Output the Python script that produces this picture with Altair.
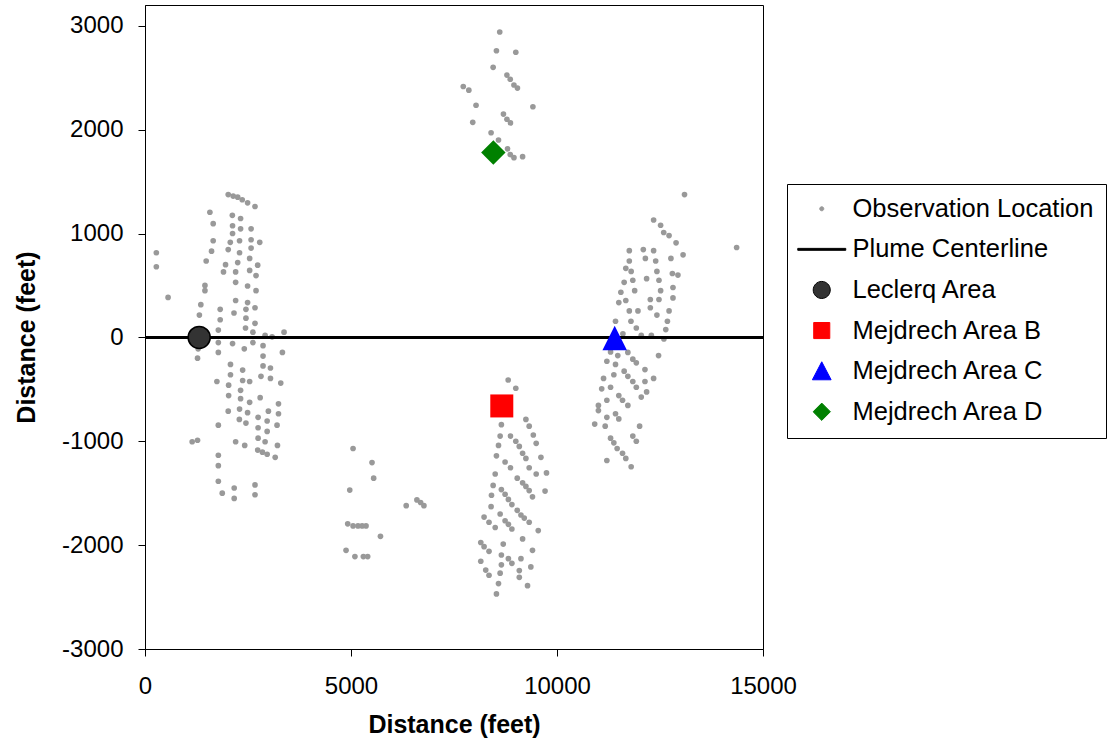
import altair as alt
import pandas as pd

# ---------------- data (feet) ----------------
west_x = [2020, 2140, 2250, 2360, 2490, 2670, 1575, 2120, 2320, 1655,
          2125, 2320, 2575, 2125, 1655, 2070, 2295, 2575, 2785, 275,
          1615, 2020, 2295, 2575, 1485, 1955, 2250, 2540, 2735, 275,
          1905, 2200, 2540, 2695, 2200, 1455, 2490, 1455, 2695, 560,
          2200, 2490, 1355, 1825, 2450, 2670, 2160, 1320, 1825, 2450,
          2670, 1780, 2440, 2620, 2915, 3085, 3375, 1780, 2125, 2620,
          2410, 2865, 1290, 1780, 3335, 2865, 1275, 2075, 2865, 3045,
          2370, 2075, 2815, 3045, 1745, 2370, 2540, 3295, 2030, 2320,
          2030, 2795, 2320, 2540, 3240, 2295, 2020, 2490, 2995, 3240,
          2290, 2450, 2745, 2965, 1780, 3205, 2745, 2965, 2745, 2915,
          2200, 2420, 3215, 1145, 1275, 2735, 2850, 2965, 3160, 1780,
          1780, 1780, 2670, 1875, 2165, 2670, 2165]
west_y = [1375, 1360, 1350, 1325, 1295, 1260, 1205, 1175, 1145, 1095,
          1075, 1045, 1045, 1000, 930, 915, 930, 940, 915, 815,
          830, 845, 815, 860, 735, 700, 720, 760, 695, 680,
          630, 630, 645, 595, 530, 500, 495, 450, 450, 385,
          355, 335, 315, 270, 270, 285, 235, 215, 170, 185,
          135, 70, 90, 50, 20, 5, 50, -50, -60, -50,
          -110, -80, -110, -145, -145, -180, -200, -260, -275, -295,
          -315, -360, -375, -395, -425, -415, -425, -440, -460, -510,
          -560, -580, -590, -625, -640, -690, -710, -725, -710, -735,
          -790, -825, -770, -805, -845, -845, -870, -905, -970, -1005,
          -1005, -1040, -1040, -1005, -990, -1085, -1105, -1125, -1155, -1135,
          -1235, -1385, -1420, -1500, -1450, -1515, -1550]

south_x = [5050, 5510, 5550, 4970, 6340, 6600, 6690, 6770, 4920, 5050,
           5170, 5270, 5365, 5715, 4880, 5095, 5300, 5405]
south_y = [-1070, -1205, -1355, -1470, -1620, -1565, -1590, -1620, -1795, -1815,
           -1815, -1815, -1815, -1915, -2050, -2110, -2110, -2110]

north_x = [8610, 8530, 9000, 8450, 8785, 8865, 8955, 9040, 7725, 7860,
           8035, 9415, 8700, 8785, 8870, 7955, 8400, 8580, 8800, 8865,
           8955, 9165]
north_y = [2940, 2760, 2745, 2600, 2525, 2485, 2430, 2400, 2415, 2380,
           2235, 2220, 2150, 2100, 2065, 2070, 1970, 1900, 1815, 1760,
           1730, 1740]

areab_x = [8815, 9000, 9245, 9325, 8650, 9425, 8620, 8870, 9000, 9085,
           9495, 8580, 9165, 9245, 8530, 9610, 8740, 8870, 9325, 9495,
           9745, 8500, 9035, 9165, 9245, 9325, 9405, 9710, 8450, 8650,
           8740, 8820, 8905, 8410, 8400, 9035, 9125, 9205, 9325, 8620,
           8230, 8350, 8500, 8740, 8820, 8905, 9545, 9165, 8695, 8150,
           8230, 8350, 9405, 8650, 8820, 8905, 9125, 8150, 8650, 9365,
           8270, 8350, 8620, 9085, 9085, 8580, 9285, 8530]
areab_y = [-410, -490, -790, -855, -840, -940, -950, -950, -1000, -1050,
           -1020, -1040, -1115, -1165, -1140, -1155, -1200, -1255, -1255, -1315,
           -1305, -1315, -1355, -1400, -1435, -1475, -1535, -1480, -1425, -1465,
           -1510, -1560, -1610, -1520, -1630, -1665, -1710, -1740, -1780, -1700,
           -1730, -1780, -1830, -1765, -1800, -1845, -1860, -1940, -1990, -1975,
           -2015, -2060, -2050, -2095, -2130, -2175, -2130, -2155, -2190, -2210,
           -2240, -2290, -2270, -2245, -2310, -2370, -2390, -2470]

east_x = [13095, 12345, 12515, 12590, 12720, 12890, 13060, 11755, 12095, 12345,
          11755, 12145, 12395, 12765, 11670, 11800, 12425, 12800, 12935, 11630,
          11840, 12175, 12475, 12815, 11550, 11885, 12515, 12815, 11670, 11500,
          12265, 12475, 11755, 11965, 12265, 12720, 12425, 11420, 11795, 12680,
          11925, 12640, 12045, 12290, 12595, 11600, 11300, 11475, 11720, 12465,
          11840, 11925, 11210, 11420, 12135, 11630, 11720, 11380, 11130, 12345,
          11840, 12135, 11925, 11300, 11085, 12175, 12045, 11500, 11590, 11720,
          11210, 11005, 11005, 11420, 11500, 11210, 10915, 11170, 12005, 11300,
          11380, 11460, 11840, 11925, 11590, 11670, 11800, 11210, 14360]
east_y = [1375, 1130, 1080, 1010, 980, 910, 795, 835, 845, 835,
          735, 760, 735, 760, 665, 635, 635, 615, 600, 530,
          550, 565, 550, 480, 435, 450, 450, 380, 355, 335,
          365, 365, 255, 255, 285, 255, 215, 155, 155, 155,
          90, 75, 20, 20, -15, 35, -140, -175, -145, -175,
          -210, -245, -230, -260, -310, -325, -375, -360, -395, -395,
          -425, -425, -480, -480, -495, -525, -575, -560, -605, -655,
          -605, -655, -705, -735, -785, -770, -835, -855, -855, -970,
          -1015, -1070, -950, -1000, -1115, -1165, -1245, -1185, 865]

area_names = ["Leclerq Area", "Mejdrech Area B", "Mejdrech Area C", "Mejdrech Area D"]
area_x = [1315, 8660, 11400, 8455]
area_y = [0, -660, -5, 1780]

centerline_y = [0]

legend_names = ["Observation Location", "Plume Centerline", "Leclerq Area",
                "Mejdrech Area B", "Mejdrech Area C", "Mejdrech Area D"]

# ---------------- styling ----------------
GREY = "#999999"
FONT = "Liberation Sans"
TRI = "M0,-1L1,1L-1,1Z"


def circle_path(r):
    return f"M{-r},0A{r},{r},0,1,0,{r},0A{r},{r},0,1,0,{-r},0Z"


# legend symbol shapes (symbol box 24 px, so one unit = 12 px)
LEG_SHAPES = [
    circle_path(0.17),
    "M-2,-0.08L2,-0.08L2,0.08L-2,0.08Z",
    circle_path(0.71),
    "M-0.67,-0.67L0.67,-0.67L0.67,0.67L-0.67,0.67Z",
    "M0,-0.78L0.78,0.72L-0.78,0.72Z",
    "M0,-0.72L0.72,0L0,0.72L-0.72,0Z",
]

obs_df = pd.DataFrame({
    "x": west_x + south_x + north_x + areab_x + east_x,
    "y": west_y + south_y + north_y + areab_y + east_y,
})
areas_df = pd.DataFrame({"name": area_names, "x": area_x, "y": area_y})
line_df = pd.DataFrame({"y": centerline_y})
legend_df = pd.DataFrame({"series": legend_names})

HYPHEN = "replace(datum.label, '\u2212', '-')"

x_enc = alt.X("x:Q",
              scale=alt.Scale(domain=[0, 15000], nice=False, zero=False),
              axis=alt.Axis(values=[0, 5000, 10000, 15000], title="Distance (feet)",
                            format="d", labelPadding=18, titlePadding=14, labelFlush=False))
y_enc = alt.Y("y:Q",
              scale=alt.Scale(domain=[-3000, 3200], nice=False, zero=False),
              axis=alt.Axis(values=[-3000, -2000, -1000, 0, 1000, 2000, 3000],
                            title="Distance (feet)", format="d", labelExpr=HYPHEN,
                            labelPadding=15, titlePadding=22, titleY=332, labelFlush=False))

obs_layer = alt.Chart(obs_df).mark_circle(size=32, color=GREY, opacity=1).encode(x=x_enc, y=y_enc)

line_layer = alt.Chart(line_df).mark_rule(color="black", strokeWidth=3).encode(y="y:Q")


def area_layer(name, shape, size, fill, stroke=None, sw=0):
    kw = dict(shape=shape, filled=True, size=size, fill=fill, opacity=1, fillOpacity=1)
    if stroke:
        kw["stroke"] = stroke
        kw["strokeWidth"] = sw
    else:
        kw["strokeWidth"] = 0
    return (alt.Chart(areas_df)
            .transform_filter(alt.datum.name == name)
            .mark_point(**kw)
            .encode(x="x:Q", y="y:Q"))


lec = area_layer("Leclerq Area", "circle", 484, "#333333", "black", 1.5)
mb = area_layer("Mejdrech Area B", "square", 529, "#ff0000")
mc = area_layer("Mejdrech Area C", TRI, 600, "#0000ff")
md = area_layer("Mejdrech Area D", "diamond", 600, "#008000")

leg = alt.Legend(title=None, orient="none", legendX=642, legendY=179,
                 labelFont=FONT, labelFontSize=25.5, labelColor="black", labelLimit=500,
                 labelOffset=18, symbolOffset=10, strokeColor="black", fillColor="white",
                 padding=12, rowPadding=13.6, cornerRadius=0, symbolOpacity=1,
                 symbolSize=576, symbolStrokeWidth=1)

legend_layer = (alt.Chart(legend_df)
                .transform_filter("false")
                .mark_point(filled=True, strokeWidth=1, opacity=1)
                .encode(
                    fill=alt.Fill("series:N", legend=leg,
                                  scale=alt.Scale(domain=legend_names,
                                                  range=[GREY, "black", "#333333", "#ff0000", "#0000ff", "#008000"])),
                    stroke=alt.Stroke("series:N", legend=leg,
                                      scale=alt.Scale(domain=legend_names,
                                                      range=[GREY, "black", "black", "#ff0000", "#0000ff", "#008000"])),
                    shape=alt.Shape("series:N", legend=leg,
                                    scale=alt.Scale(domain=legend_names, range=LEG_SHAPES)),
                ))

chart = (alt.layer(obs_layer, line_layer, lec, mb, mc, md, legend_layer)
         .properties(width=618, height=644, background="white",
                     autosize=alt.AutoSizeParams(type="none"),
                     padding={"left": 145, "top": 5, "right": 351, "bottom": 95})
         .configure_view(stroke="black", strokeWidth=1)
         .configure_axis(domainColor="black", domainWidth=1, tickColor="black", tickSize=7,
                         tickWidth=1, grid=False, labelFont=FONT, labelFontSize=24,
                         labelColor="black", titleFont=FONT, titleFontSize=25,
                         titleFontWeight="bold", titleColor="black"))

chart.save("out.html", embed_options={"renderer": "svg", "actions": False})
